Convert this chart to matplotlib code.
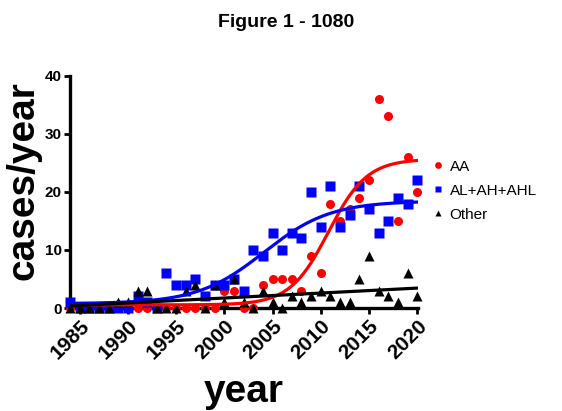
import numpy as np
import matplotlib
matplotlib.use("Agg")
import matplotlib.pyplot as plt

plt.rcParams["font.family"] = ["Liberation Sans", "DejaVu Sans"]

years = np.arange(1984, 2021)
aa = [0, 0, 0, 0, 0, 0, 0, 0, 0, 0, 0, 0, 0, 0, 0, 0, 3, 3, 0, 0, 4, 5, 5, 5, 3,
      9, 6, 18, 15, 17, 19, 22, 36, 33, 15, 26, 20]
al_ah_ahl = [1, 0, 0, 0, 0, 0, 0, 2, 1, 0, 6, 4, 4, 5, 2, 4, 4, 5, 3, 10, 9, 13,
             10, 13, 12, 20, 14, 21, 14, 16, 21, 17, 13, 15, 19, 18, 22]
other = [0, 0, 0, 0, 0, 1, 1, 3, 3, 0, 0, 0, 3, 4, 0, 4, 1, 5, 1, 0, 3, 1, 0, 2,
         1, 2, 3, 2, 1, 1, 5, 9, 3, 2, 1, 6, 2]
labels = ["AA", "AL+AH+AHL", "Other"]
xticks = [1985, 1990, 1995, 2000, 2005, 2010, 2015, 2020]
yticks = [0, 10, 20, 30, 40]


def fit_sigmoid(x, y):
    # grid over midpoint and slope, linear least squares for bottom/top
    x = np.asarray(x, float)
    y = np.asarray(y, float)
    best = None
    for x0 in np.arange(1990, 2020, 0.1):
        for s in np.arange(0.5, 8, 0.05):
            f = 1 / (1 + np.exp((x0 - x) / s))
            A = np.column_stack([np.ones_like(x), f])
            coef = np.linalg.lstsq(A, y, rcond=None)[0]
            sse = ((A @ coef - y) ** 2).sum()
            if best is None or sse < best[0]:
                best = (sse, x0, s, coef)
    _, x0, s, (b, t) = best
    return lambda xx: b + t / (1 + np.exp((x0 - xx) / s))


fig = plt.figure(figsize=(5.62, 4.11), dpi=100)
ax = fig.add_axes([0.1246, 0.2506, 0.6194, 0.5650])

xs = np.linspace(1984, 2020, 400)
f_aa = fit_sigmoid(years, aa)
f_al = fit_sigmoid(years, al_ah_ahl)
k, c = np.polyfit(years, other, 1)

ax.plot(years, aa, "o", color="#ff0000", ms=6.5, mec="none", clip_on=False,
        zorder=3, label=labels[0])
ax.plot(years, al_ah_ahl, "s", color="#0000ff", ms=6.5, mec="none",
        clip_on=False, zorder=3, label=labels[1])
ax.plot(years, other, "^", color="black", ms=6.5, mec="none", clip_on=False,
        zorder=3, label=labels[2])
ax.plot(xs, f_aa(xs), color="#ff0000", lw=2.3, zorder=4)
ax.plot(xs, f_al(xs), color="#0000ff", lw=2.3, zorder=4)
ax.plot(xs, k * xs + c, color="black", lw=2.3, zorder=4)

ax.set_xlim(1984, 2020.1)
ax.set_ylim(0, 40)
ax.set_xticks(xticks)
ax.set_xticklabels([str(t) for t in xticks], rotation=45, ha="right",
                   rotation_mode="anchor", fontsize=15, fontweight="bold")
ax.set_yticks(yticks)
ax.set_yticklabels([str(t) for t in yticks], fontsize=11, fontweight="bold")
for s in ["top", "right"]:
    ax.spines[s].set_visible(False)
for s in ["left", "bottom"]:
    ax.spines[s].set_linewidth(2.4)
ax.tick_params(width=2, length=4, pad=2)

ax.set_ylabel("cases/year", fontsize=28, fontweight="bold")
ax.yaxis.set_label_coords(-0.082, 0.55)
ax.set_xlabel("year", fontsize=28, fontweight="bold", labelpad=8)
fig.text(0.51, 0.945, "Figure 1 - 1080", ha="center", va="center",
         fontsize=14, fontweight="bold")

ax.legend(loc="upper left", bbox_to_anchor=(1.025, 0.665), frameon=False,
          fontsize=11, handlelength=0.6, handletextpad=0.5, markerscale=0.75,
          labelspacing=0.65, borderaxespad=0)

fig.savefig("out.png", dpi=100)
